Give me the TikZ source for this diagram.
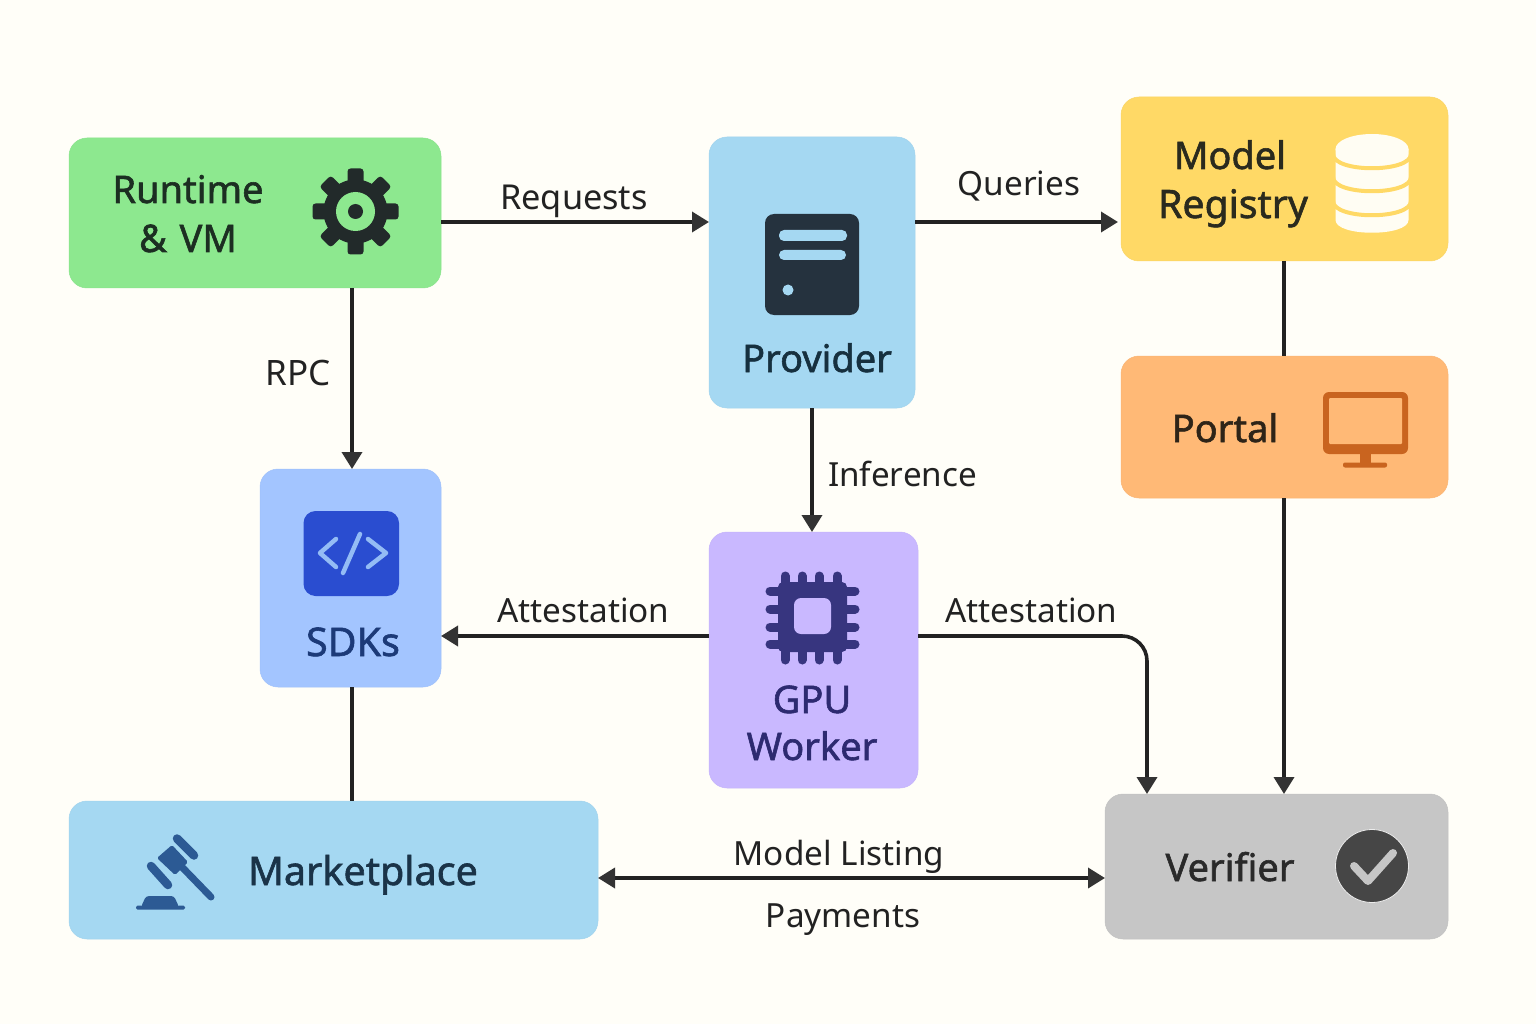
\documentclass[tikz,border=0pt]{standalone}
\usepackage{fontspec}
\setmainfont{Noto Sans}
\newfontfamily\medfont[FakeBold=1.5]{Noto Sans}
\usetikzlibrary{arrows.meta,calc}
\definecolor{bgc}{HTML}{FFFEF8}
\definecolor{linec}{HTML}{222222}
\definecolor{headc}{HTML}{333333}
\definecolor{cgreen}{HTML}{8DE88F}
\definecolor{csky}{HTML}{A5D8F2}
\definecolor{cyellow}{HTML}{FFD966}
\definecolor{corange}{HTML}{FFB976}
\definecolor{cblue}{HTML}{A3C5FF}
\definecolor{cpurple}{HTML}{C9B8FF}
\definecolor{cgrey}{HTML}{C6C6C6}
\definecolor{tgreen}{HTML}{1C2E22}
\definecolor{tsky}{HTML}{16303F}
\definecolor{tyellow}{HTML}{2A2A1E}
\definecolor{torange}{HTML}{2E2418}
\definecolor{tblue}{HTML}{1C3A78}
\definecolor{tpurple}{HTML}{2D2A70}
\definecolor{tmarket}{HTML}{1A3348}
\definecolor{tgrey}{HTML}{2A2A2A}
\definecolor{gd}{HTML}{222A2A}
\definecolor{srv}{HTML}{25323E}
\definecolor{dbc}{HTML}{FFFDF3}
\definecolor{mon}{HTML}{C9641F}
\definecolor{codeb}{HTML}{2A4DD0}
\definecolor{codel}{HTML}{94BCF5}
\definecolor{chip}{HTML}{37357F}
\definecolor{gav}{HTML}{2C5A94}
\definecolor{chk}{HTML}{464646}
\tikzset{
  x=1pt,y=-1pt,
  boxn/.style={draw=#1!98!black,line width=0.5pt,fill=#1,rounded corners=18pt,inner sep=0pt,outer sep=0pt},
  title/.style={font=\fontsize{38}{38}\selectfont\medfont,anchor=base,inner sep=0pt},
  lbl/.style={font=\fontsize{33.3}{33.3}\selectfont,anchor=base,inner sep=0pt,text=linec},
  conn/.style={line width=3.6pt,draw=linec},
  arr/.style={conn,-{Triangle[length=17pt,width=20pt,color=headc]}},
  arrb/.style={conn,{Triangle[length=17pt,width=20pt,color=headc]}-{Triangle[length=17pt,width=20pt,color=headc]}},
}
\newcommand{\boxat}[6]{\node[boxn=#6,minimum width=#4pt-#2pt,minimum height=#5pt-#3pt] (#1) at ({(#2+#4)/2},{(#3+#5)/2}) {};}
\begin{document}
\begin{tikzpicture}
\useasboundingbox[fill=bgc] (0,0) rectangle (1536,1024);
% boxes
\boxat{rt}{69}{138}{441}{288}{cgreen}
\boxat{prov}{709}{137}{915}{408}{csky}
\boxat{reg}{1121}{97}{1448}{261}{cyellow}
\boxat{portal}{1121}{356}{1448}{498}{corange}
\boxat{sdk}{260}{469}{441}{687}{cblue}
\boxat{gpu}{709}{532}{918}{788}{cpurple}
\boxat{market}{69}{801}{598}{939}{csky}
\boxat{ver}{1105}{794}{1448}{939}{cgrey}
% connectors
\draw[arr] ([yshift=-9pt]rt.east) -- ([yshift=50.5pt]prov.west);
\draw[arr] ([yshift=50.5pt]prov.east) -- ([xshift=-3pt,yshift=-43pt]reg.west);
\draw[arr] ([xshift=97pt]rt.south) -- ([xshift=1.5pt]sdk.north);
\draw[arr] (prov.south) -- (prov.south |- gpu.north);
\draw[conn] ([xshift=-.5pt]reg.south) -- ([xshift=-.5pt]portal.north);
\draw[arr] ([xshift=-.5pt]portal.south) -- ([xshift=7.5pt]ver.north);
\draw[arr] ([yshift=24pt]gpu.west) -- ([yshift=-58pt]sdk.east);
\draw[conn,rounded corners=25pt,-{Triangle[length=17pt,width=20pt,color=headc]}] ([yshift=24pt]gpu.east) -| ([xshift=-129.5pt]ver.north);
\draw[conn] ([xshift=1.5pt]sdk.south) -- ([xshift=18.5pt]market.north);
\draw[arrb] ([yshift=-8pt]market.east) -- ([yshift=-11.5pt]ver.west);
% titles
\node[title,text=tgreen] (t1) at (188,203) {Runtime};
\node[title,text=tgreen] (t2) at (188,252) {\&\,\,VM};
\node[title,text=tsky] (t3) at (817,372) {Provider};
\node[title,text=tyellow] (t4) at (1230,169) {Model};
\node[title,text=tyellow,font=\fontsize{39.2}{39.2}\selectfont\medfont] (t5) at (1233,218) {Registry};
\node[title,text=torange] (t6) at (1225,442) {Portal};
\node[title,text=tblue,font=\fontsize{39.5}{39.5}\selectfont\medfont] (t7) at (353,656) {SDKs};
\node[title,text=tpurple] (t8) at (812,713) {GPU};
\node[title,text=tpurple] (t9) at (812,760) {Worker};
\node[title,text=tmarket,font=\fontsize{39.5}{39.5}\selectfont\medfont] (t10) at (363,885) {Marketplace};
\node[title,text=tgrey] (t11) at (1230,881) {Verifier};
% labels
\node[lbl] (l1) at (574,210) {\fontsize{34.3}{34.3}\selectfont Requests};
\node[lbl] (l2) at (1019,196) {Queries};
\node[lbl] (l3) at (298,385) {\fontsize{35}{35}\selectfont RPC};
\node[lbl] (l4) at (902.5,486) {\fontsize{33.2}{33.2}\selectfont Inference};
\node[lbl] (l5) at (583.5,622) {Attestation};
\node[lbl] (l6) at (1031.5,622) {Attestation};
\node[lbl] (l7) at (839,865) {Model Listing};
\node[lbl] (l8) at (843,927) {Payments};
% gear
\begin{scope}[shift={(355.5,211.5)}]
  \fill[gd] (0,0) circle[radius=32];
  \foreach \a in {0,45,...,315}{
    \begin{scope}[rotate=\a]
      \fill[gd,rounded corners=3pt] (-8,-43) rectangle (8,-24);
    \end{scope}}
  \fill[cgreen] (0,0) circle[radius=19.5];
  \fill[gd] (0,0) circle[radius=7.5];
\end{scope}
% server
\fill[srv,rounded corners=9pt] (765,214) rectangle (859,315);
\fill[csky,rounded corners=5pt] (779,230) rectangle (847,241);
\fill[csky,rounded corners=5pt] (779,250) rectangle (846,260);
\fill[csky] (788,290) circle[radius=5.5];
% database
\fill[dbc] (1335.5,149) -- (1335.5,220) .. controls (1335.5,237) and (1408.5,237) .. (1408.5,220) -- (1408.5,149) -- cycle;
\foreach \yy in {154,177,201}{
  \draw[cyellow,line width=4pt] (1333,\yy) .. controls (1333,\yy+19) and (1411,\yy+19) .. (1411,\yy);
}
\fill[dbc] (1372,149) ellipse[x radius=36.5,y radius=15];
% monitor
\fill[mon,rounded corners=6pt] (1323,392) rectangle (1408,454);
\fill[corange,rounded corners=1pt] (1329,398) rectangle (1402,444);
\fill[mon] (1360,453) rectangle (1371,464);
\fill[mon,rounded corners=2pt] (1343,462.5) rectangle (1387,467.5);
% code
\fill[codeb,rounded corners=12pt] (303.5,511) rectangle (399,596);
\draw[codel,line width=4.5pt,line cap=round,line join=round] (336,539) -- (320,553) -- (336,567) (368,539) -- (386,553) -- (368,567) (360,534) -- (343,573);
% chip
\draw[chip,line width=9pt,line cap=round]
  (785,576) -- (785,600) (802,576) -- (802,600) (819,576) -- (819,600) (837,576) -- (837,600)
  (785,660) -- (785,635) (802,660) -- (802,635) (819,660) -- (819,635) (837,660) -- (837,635)
  (770,591) -- (795,591) (770,609) -- (795,609) (770,627) -- (795,627) (770,644) -- (795,644)
  (855,591) -- (830,591) (855,609) -- (830,609) (855,627) -- (830,627) (855,644) -- (830,644);
\fill[chip,rounded corners=5pt] (778,582) rectangle (847,652);
\fill[cpurple,rounded corners=7pt] (794,598) rectangle (831,634);
% gavel
\fill[gav,rounded corners=1.5pt] (157,858) -- (172,845) -- (188,862) -- (175,875) -- cycle;
\draw[gav,line width=8.5pt,line cap=round] (177,838.5) -- (194,855.5) (151,866) -- (168,885);
\draw[gav,line width=7pt,line cap=round] (180,865) -- (211,897);
\fill[gav,rounded corners=3pt] (141,907) -- (146,896) -- (174,896) -- (179,907) -- cycle;
\fill[gav,rounded corners=1.5pt] (136,905.5) rectangle (185,909.5);
% check
\fill[chk,draw=white!85!gray,line width=0.8pt] (1372,866) circle[radius=36.5];
\draw[cgrey,line width=8pt,line cap=round,line join=round] (1354,866) -- (1368,881) -- (1393,853);
\end{tikzpicture}
\end{document}
